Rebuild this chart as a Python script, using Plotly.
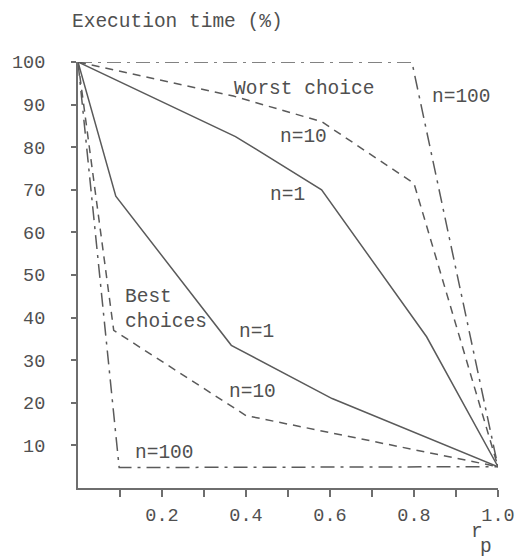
import plotly.graph_objects as go

# ---- data ----
rp_best_n1 = [0, 0.09, 0.365, 0.605, 1.0]
t_best_n1 = [100, 68.5, 33.5, 21, 5]

rp_best_n10 = [0, 0.085, 0.40, 1.0]
t_best_n10 = [100, 37, 17, 5]

rp_best_n100 = [0, 0.098, 1.0]
t_best_n100 = [100, 4.8, 5]

rp_worst_n1 = [0, 0.375, 0.58, 0.83, 1.0]
t_worst_n1 = [100, 82.5, 70, 35.5, 5]

rp_worst_n10 = [0, 0.37, 0.58, 0.80, 1.0]
t_worst_n10 = [100, 92, 86, 71.5, 5]

rp_worst_n100 = [0, 0.795, 1.0]
t_worst_n100 = [100, 100, 5]

x_tickvals = [0.1, 0.2, 0.3, 0.4, 0.5, 0.6, 0.7, 0.8, 0.9, 1.0]
x_ticktext = ["", "0.2", "", "0.4", "", "0.6", "", "0.8", "", "1.0"]
y_tickvals = [10, 20, 30, 40, 50, 60, 70, 80, 90, 100]
y_ticktext = ["10", "20", "30", "40", "50", "60", "70", "80", "90", "100"]

FONT = "Liberation Mono, Courier New, monospace"
LINE = "#5a5a5a"
TEXT = "#505050"
AX = "#6e6e6e"

fig = go.Figure()

def add(x, y, dash):
    fig.add_trace(go.Scatter(x=x, y=y, mode="lines",
                             line=dict(color=LINE, width=1.5, dash=dash),
                             cliponaxis=False, showlegend=False, hoverinfo="skip"))

add(rp_best_n1, t_best_n1, "solid")
add(rp_best_n10, t_best_n10, "8px,6px")
add(rp_best_n100, t_best_n100, "14px,6px,3px,6px")
add(rp_worst_n1, t_worst_n1, "solid")
add(rp_worst_n10, t_worst_n10, "8px,6px")
add(rp_worst_n100, t_worst_n100, "14px,6px,3px,6px")

fs = 19.5
tfs = 18.5
def note(text, x, y, xanchor="center", align="center", xref="x", yref="y"):
    fig.add_annotation(text=text, x=x, y=y, xref=xref, yref=yref, showarrow=False,
                       xanchor=xanchor, yanchor="middle", align=align,
                       font=dict(family=FONT, size=fs, color=TEXT))

note("Worst choice", 0.538, 93.7)
note("n=100", 0.914, 91.8)
note("n=10", 0.538, 82.4)
note("n=1", 0.499, 68.8)
note("Best<br>choices", 0.107, 41.8, xanchor="left", align="left")
note("n=1", 0.424, 36.6)
note("n=10", 0.415, 22.5)
note("n=100", 0.207, 8.2)
note("Execution time (%)", -0.019, 1.094, xanchor="left", xref="paper", yref="paper")
note("r", 0.950, -0.103, xref="paper", yref="paper")
note("p", 0.972, -0.139, xref="paper", yref="paper")

fig.update_layout(
    width=527, height=557,
    margin=dict(l=76, r=22, t=62, b=69),
    paper_bgcolor="white", plot_bgcolor="white",
    hovermode=False,
    font=dict(family=FONT, size=fs, color=TEXT),
    xaxis=dict(range=[0, 1.0], tickvals=x_tickvals, ticktext=x_ticktext,
               showgrid=False, zeroline=False, showline=True, linecolor=AX, linewidth=2,
               ticks="outside", ticklen=7, tickwidth=1.5, tickcolor=AX,
               ticklabelstandoff=2, tickfont=dict(family=FONT, size=tfs, color=TEXT)),
    yaxis=dict(range=[0, 100], tickvals=y_tickvals, ticktext=y_ticktext,
               showgrid=False, zeroline=False, showline=True, linecolor=AX, linewidth=2,
               ticks="outside", ticklen=5, tickwidth=1.5, tickcolor=AX,
               ticklabelstandoff=22, tickfont=dict(family=FONT, size=tfs, color=TEXT)),
)

# remove the default page margin so the figure sits at the window's top-left corner
fig.write_html("out.html", config={"displayModeBar": False},
               post_script="document.body.style.margin='0px';")
